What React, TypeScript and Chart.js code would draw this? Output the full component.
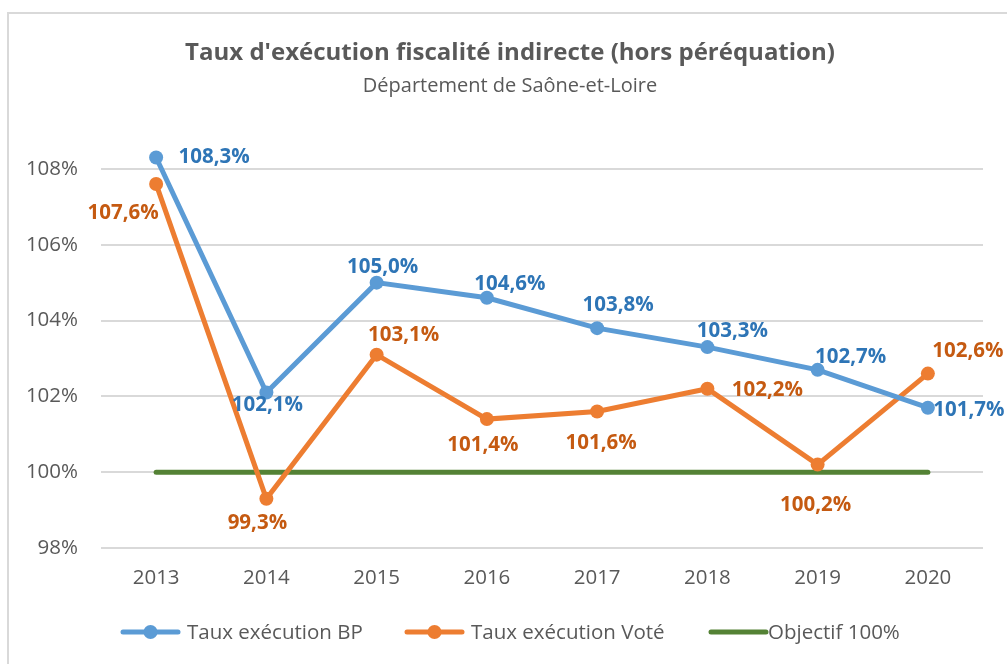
import React, { useEffect, useRef } from "react";
import { Chart, registerables } from "chart.js";

Chart.register(...registerables);

const years = ["2013", "2014", "2015", "2016", "2017", "2018", "2019", "2020"];
const tauxBP = [108.3, 102.1, 105.0, 104.6, 103.8, 103.3, 102.7, 101.7];
const tauxVote = [107.6, 99.3, 103.1, 101.4, 101.6, 102.2, 100.2, 102.6];
const objectif = [100, 100, 100, 100, 100, 100, 100, 100];
const seriesNames = ["Taux exécution BP", "Taux exécution Voté", "Objectif 100%"];
const titleText = "Taux d'exécution fiscalité indirecte (hors péréquation)";
const subtitleText = "Département de Saône-et-Loire";

// label placement (style only): pixel offsets from each point
const bpLabelOffsets = [[58, 0], [1, 13], [6, -15], [23, -14], [21, -23], [25, -16], [33, -13], [41, 2]];
const voteLabelOffsets = [[-33, 29], [-9, 24], [27, -20], [-4, 26], [4, 32], [60, 1], [-2, 41], [40, -22]];

const BLUE = "#5B9BD5";
const ORANGE = "#ED7D31";
const GREEN = "#548235";
const BLUE_LBL = "#2E75B6";
const ORANGE_LBL = "#C55A11";
const TEXT = "#595959";
const FONT = "'Open Sans', sans-serif";

const decoPlugin = {
  id: "deco",
  beforeDraw(chart: any) {
    const ctx = chart.ctx;
    ctx.save();
    ctx.fillStyle = "#ffffff";
    ctx.fillRect(0, 0, chart.width, chart.height);
    ctx.strokeStyle = "#d9d9d9";
    ctx.lineWidth = 2;
    ctx.strokeRect(8, 13, chart.width + 20, chart.height + 20);
    ctx.fillStyle = TEXT;
    ctx.textAlign = "center";
    ctx.textBaseline = "middle";
    ctx.font = `bold 24px ${FONT}`;
    ctx.fillText(titleText, 510, 53);
    ctx.font = `20px ${FONT}`;
    ctx.fillText(subtitleText, 510, 86);
    // legend
    const items = [
      { x1: 123, x2: 178, color: BLUE, marker: true, tx: 187, label: seriesNames[0] },
      { x1: 407, x2: 462, color: ORANGE, marker: true, tx: 471, label: seriesNames[1] },
      { x1: 711, x2: 766, color: GREEN, marker: false, tx: 768, label: seriesNames[2] },
    ];
    const ly = 632;
    items.forEach((it) => {
      ctx.strokeStyle = it.color;
      ctx.lineWidth = 5;
      ctx.lineCap = "round";
      ctx.beginPath();
      ctx.moveTo(it.x1, ly);
      ctx.lineTo(it.x2, ly);
      ctx.stroke();
      if (it.marker) {
        ctx.fillStyle = it.color;
        ctx.beginPath();
        ctx.arc((it.x1 + it.x2) / 2, ly, 7, 0, Math.PI * 2);
        ctx.fill();
      }
      ctx.fillStyle = TEXT;
      ctx.textAlign = "left";
      ctx.font = `20.5px ${FONT}`;
      ctx.fillText(it.label, it.tx, ly + 1);
    });
    ctx.restore();
  },
  afterDatasetsDraw(chart: any) {
    const ctx = chart.ctx;
    ctx.save();
    ctx.textAlign = "center";
    ctx.textBaseline = "middle";
    ctx.font = `bold 20.5px ${FONT}`;
    const sets = [
      { idx: 0, color: BLUE_LBL, offs: bpLabelOffsets },
      { idx: 1, color: ORANGE_LBL, offs: voteLabelOffsets },
    ];
    sets.forEach((s) => {
      const meta = chart.getDatasetMeta(s.idx);
      const values = chart.data.datasets[s.idx].data as number[];
      meta.data.forEach((pt: any, i: number) => {
        const txt = values[i].toFixed(1).replace(".", ",") + "%";
        ctx.fillStyle = s.color;
        ctx.fillText(txt, pt.x + s.offs[i][0], pt.y + s.offs[i][1]);
      });
    });
    ctx.restore();
  },
};

export default function App() {
  const ref = useRef<HTMLCanvasElement | null>(null);
  useEffect(() => {
    if (!ref.current) return;
    const chart = new Chart(ref.current, {
      type: "line",
      data: {
        labels: years,
        datasets: [
          {
            label: seriesNames[0],
            data: tauxBP,
            borderColor: BLUE,
            backgroundColor: BLUE,
            borderWidth: 5,
            pointRadius: 7,
            pointBorderWidth: 0,
            pointBackgroundColor: BLUE,
            tension: 0,
          },
          {
            label: seriesNames[1],
            data: tauxVote,
            borderColor: ORANGE,
            backgroundColor: ORANGE,
            borderWidth: 5,
            pointRadius: 7,
            pointBorderWidth: 0,
            pointBackgroundColor: ORANGE,
            tension: 0,
          },
          {
            label: seriesNames[2],
            data: objectif,
            borderColor: GREEN,
            backgroundColor: GREEN,
            borderWidth: 5,
            borderCapStyle: "round",
            pointRadius: 0,
            tension: 0,
          },
        ],
      },
      options: {
        animation: false,
        responsive: false,
        maintainAspectRatio: false,
        layout: { padding: { left: 0, right: 24, top: 131, bottom: 0 } },
        plugins: {
          legend: { display: false },
          title: { display: false },
          tooltip: { enabled: false },
        },
        scales: {
          x: {
            offset: true,
            grid: { display: false, drawTicks: false },
            border: { display: false },
            ticks: { color: TEXT, font: { family: FONT, size: 20.5 }, padding: 18 },
            afterFit(scale: any) {
              scale.height = 116;
            },
          },
          y: {
            min: 98,
            max: 109,
            grid: { color: "#d9d9d9", lineWidth: 2, drawTicks: false },
            border: { display: false },
            ticks: {
              stepSize: 2,
              color: TEXT,
              font: { family: FONT, size: 20.5 },
              padding: 23,
              callback: (v: any) => `${v}%`,
            },
            afterBuildTicks(scale: any) {
              scale.ticks = scale.ticks.filter((t: any) => t.value <= 108);
            },
            afterFit(scale: any) {
              scale.width = 101;
            },
          },
        },
      },
      plugins: [decoPlugin],
    });
    return () => chart.destroy();
  }, []);
  return (
    <div style={{ position: "fixed", left: 0, top: 0, width: 1007, height: 664, background: "#fff" }}>
      <canvas ref={ref} width={1007} height={664} style={{ display: "block" }} />
    </div>
  );
}
